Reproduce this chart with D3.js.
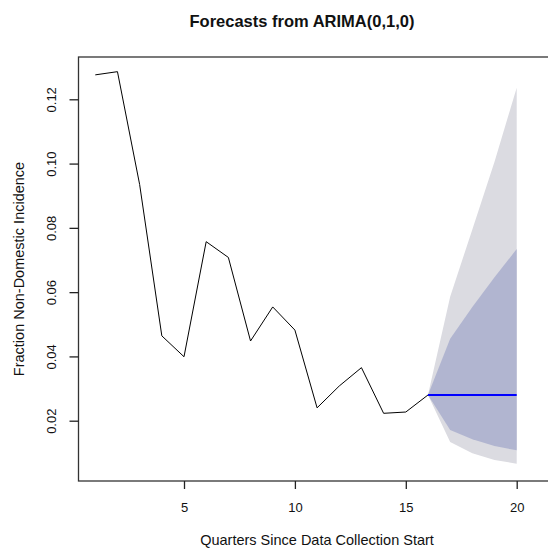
<!DOCTYPE html>
<html>
<head>
<meta charset="utf-8">
<script src="https://cdn.jsdelivr.net/npm/d3@7"></script>
<style>
  body { margin: 0; background: #fff; }
  text { font-family: "Liberation Sans", Arial, sans-serif; fill: #111; }
</style>
</head>
<body>
<div id="chart"></div>
<script>
// observed series (quarter 1..16)
const quarters = [1, 2, 3, 4, 5, 6, 7, 8, 9, 10, 11, 12, 13, 14, 15, 16];
const observed = [0.1276, 0.1286, 0.0935, 0.0464, 0.0399, 0.0757, 0.0708, 0.0448,
                  0.0554, 0.0482, 0.0240, 0.0308, 0.0365, 0.0223, 0.0227, 0.0280];

// forecast (starts at last observation)
const fcQuarters = [16, 17, 18, 19, 20];
const fcMean  = [0.0280, 0.0280, 0.0280, 0.0280, 0.0280];
const lo80    = [0.0280, 0.0171, 0.0142, 0.0121, 0.0108];
const hi80    = [0.0280, 0.0455, 0.0554, 0.0646, 0.0734];
const lo95    = [0.0280, 0.0134, 0.0099, 0.0078, 0.0066];
const hi95    = [0.0280, 0.0586, 0.0795, 0.1006, 0.1236];

const xTicks = [5, 10, 15, 20];
const yTicks = [0.02, 0.04, 0.06, 0.08, 0.10, 0.12];

const width = 548, height = 549;
const box = { left: 78.5, top: 57, right: 556, bottom: 481 };

const svg = d3.select('#chart')
    .append('svg')
    .attr('width', width)
    .attr('height', height);

const x = d3.scaleLinear().domain([5, 20]).range([184, 516.7]);
const y = d3.scaleLinear().domain([0.02, 0.12]).range([420.7, 99.3]);

const fc = fcQuarters.map((q, i) => ({
    q, mean: fcMean[i], lo80: lo80[i], hi80: hi80[i], lo95: lo95[i], hi95: hi95[i]
}));

// bands
svg.append('path')
    .datum(fc)
    .attr('fill', '#dbdbe1')
    .attr('d', d3.area().x(d => x(d.q)).y0(d => y(d.lo95)).y1(d => y(d.hi95)));

svg.append('path')
    .datum(fc)
    .attr('fill', '#b1b5d0')
    .attr('d', d3.area().x(d => x(d.q)).y0(d => y(d.lo80)).y1(d => y(d.hi80)));

// observed line
svg.append('path')
    .datum(quarters.map((q, i) => [q, observed[i]]))
    .attr('fill', 'none')
    .attr('stroke', '#000')
    .attr('stroke-width', 1)
    .attr('d', d3.line().x(d => x(d[0])).y(d => y(d[1])));

// forecast mean
svg.append('path')
    .datum(fc)
    .attr('fill', 'none')
    .attr('stroke', '#0000ff')
    .attr('stroke-width', 2)
    .attr('d', d3.line().x(d => x(d.q)).y(d => y(d.mean)));

// box
svg.append('rect')
    .attr('x', box.left)
    .attr('y', box.top)
    .attr('width', box.right - box.left)
    .attr('height', box.bottom - box.top)
    .attr('fill', 'none')
    .attr('stroke', '#333')
    .attr('stroke-width', 1.3);

// x axis
const xAxis = svg.append('g')
    .attr('transform', `translate(0,${box.bottom})`)
    .call(d3.axisBottom(x).tickValues(xTicks).tickSize(8).tickPadding(14).tickFormat(d3.format('d')));
xAxis.select('.domain').remove();
xAxis.selectAll('line').attr('stroke', '#222').attr('stroke-width', 1.3);
xAxis.selectAll('text')
    .style('font-size', '13px')
    .style('font-family', '"Liberation Sans", Arial, sans-serif')
    .attr('fill', '#111');

// y axis
const yAxis = svg.append('g')
    .attr('transform', `translate(${box.left},0)`)
    .call(d3.axisLeft(y).tickValues(yTicks).tickSize(9).tickFormat(d3.format('.2f')));
yAxis.select('.domain').remove();
yAxis.selectAll('line').attr('stroke', '#222').attr('stroke-width', 1.3);
yAxis.selectAll('text')
    .attr('x', null).attr('dy', null)
    .attr('transform', 'translate(-27,0) rotate(-90)')
    .style('text-anchor', 'middle')
    .attr('dominant-baseline', 'central')
    .style('font-size', '13px')
    .style('font-family', '"Liberation Sans", Arial, sans-serif')
    .attr('fill', '#111');

// title and labels
svg.append('text')
    .attr('x', 302)
    .attr('y', 21)
    .attr('dominant-baseline', 'central')
    .style('text-anchor', 'middle')
    .style('font-weight', 'bold')
    .style('font-size', '16.5px')
    .text('Forecasts from ARIMA(0,1,0)');

svg.append('text')
    .attr('x', 317)
    .attr('y', 540)
    .attr('dominant-baseline', 'central')
    .style('text-anchor', 'middle')
    .style('font-size', '14.5px')
    .text('Quarters Since Data Collection Start');

svg.append('text')
    .attr('transform', `translate(19,${269}) rotate(-90)`)
    .attr('dominant-baseline', 'central')
    .style('text-anchor', 'middle')
    .style('font-size', '14.5px')
    .text('Fraction Non-Domestic Incidence');
</script>
</body>
</html>
